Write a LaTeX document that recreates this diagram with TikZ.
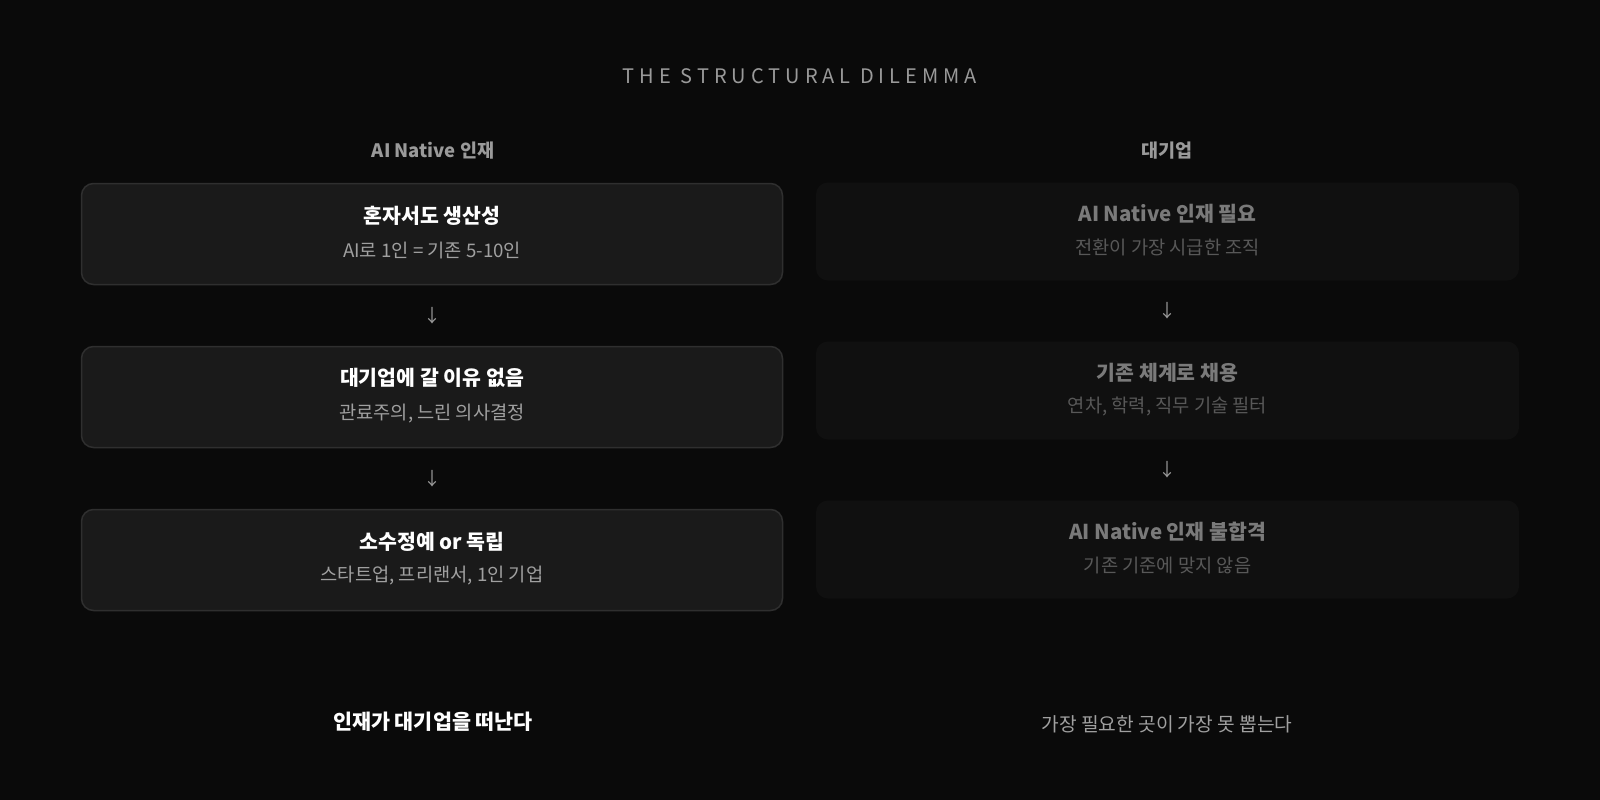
\documentclass[tikz,border=0pt]{standalone}
\usepackage{fontspec}
\setmainfont{Noto Sans CJK KR}
\newfontfamily\spacedfont[LetterSpace=25]{Noto Sans CJK KR}
\usetikzlibrary{positioning,calc}

\definecolor{bgc}{HTML}{0A0A0A}
\definecolor{cardfill}{HTML}{1A1A1A}
\definecolor{cardline}{HTML}{2F2F2F}
\definecolor{dimfill}{HTML}{101010}
\definecolor{headgrey}{HTML}{9A9A9A}
\definecolor{subgrey}{HTML}{A0A0A0}
\definecolor{dimtitle}{HTML}{7A7A7A}
\definecolor{dimsub}{HTML}{585858}

\tikzset{
  card/.style={draw=cardline, line width=1.5pt, fill=cardfill, rounded corners=12pt,
    minimum width=701pt, minimum height=101pt, inner sep=0pt},
  dimcard/.style={fill=dimfill, rounded corners=12pt,
    minimum width=703pt, minimum height=98pt, inner sep=0pt},
  cardtitle/.style={text=white, font=\fontsize{20.5}{24}\selectfont\bfseries, inner sep=0pt},
  cardsub/.style={text=subgrey, font=\fontsize{18.7}{22}\selectfont, inner sep=0pt},
  dimtitle/.style={text=dimtitle, font=\fontsize{20.5}{24}\selectfont\bfseries, inner sep=0pt},
  dimsub/.style={text=dimsub, font=\fontsize{18.7}{22}\selectfont, inner sep=0pt},
  colhead/.style={text=headgrey, font=\fontsize{18.5}{22}\selectfont\bfseries, inner sep=0pt},
  downarrow/.style={text=headgrey, font=\fontsize{18}{22}\selectfont, inner sep=0pt},
}

\begin{document}
\begin{tikzpicture}[x=1pt, y=-1pt]
  \fill[bgc] (0,0) rectangle (1600,800);
  \useasboundingbox (0,0) rectangle (1600,800);

  \node[text=headgrey, font=\fontsize{20}{24}\selectfont\spacedfont, inner sep=0pt] (title) at (800,76) {THE STRUCTURAL DILEMMA};

  % left column
  \node[colhead] (lhead) at (433,151) {AI Native 인재};
  \node[card] (l1) at (432,234) {};
  \node[card] (l2) at (432,397) {};
  \node[card] (l3) at (432,560) {};
  \node[cardtitle] (l1t) at ([yshift=18pt]l1.center) {혼자서도 생산성};
  \node[cardsub] (l1s) at ([yshift=-16pt]l1.center) {AI로 1인 = 기존 5-10인};
  \node[cardtitle] (l2t) at ([yshift=19pt]l2.center) {대기업에 갈 이유 없음};
  \node[cardsub] (l2s) at ([yshift=-17pt]l2.center) {관료주의, 느린 의사결정};
  \node[cardtitle] (l3t) at ([yshift=18pt]l3.center) {소수정예 or 독립};
  \node[cardsub] (l3s) at ([yshift=-16pt]l3.center) {스타트업, 프리랜서, 1인 기업};

  % right column
  \node[colhead] (rhead) at (1167,151) {대기업};
  \node[dimcard] (r1) at (1167.5,231.5) {};
  \node[dimcard] (r2) at (1167.5,390.5) {};
  \node[dimcard] (r3) at (1167.5,549.5) {};
  \node[dimtitle] (r1t) at ([yshift=18pt]r1.center) {AI Native 인재 필요};
  \node[dimsub] (r1s) at ([yshift=-16pt]r1.center) {전환이 가장 시급한 조직};
  \node[dimtitle] (r2t) at ([yshift=18pt]r2.center) {기존 체계로 채용};
  \node[dimsub] (r2s) at ([yshift=-16pt]r2.center) {연차, 학력, 직무 기술 필터};
  \node[dimtitle] (r3t) at ([yshift=18pt]r3.center) {AI Native 인재 불합격};
  \node[dimsub] (r3s) at ([yshift=-16pt]r3.center) {기존 기준에 맞지 않음};

  % arrows between cards
  \foreach \a/\b in {l1/l2, l2/l3, r1/r2, r2/r3} {
    \node[downarrow] at ($(\a.south)!0.5!(\b.north)$) {↓};
  }

  % conclusions
  \node[text=white, font=\fontsize{20.7}{24}\selectfont\bfseries, inner sep=0pt] (lend) at (433,722) {인재가 대기업을 떠난다};
  \node[text=subgrey, font=\fontsize{19.2}{23}\selectfont, inner sep=0pt] (rend) at (1167,724) {가장 필요한 곳이 가장 못 뽑는다};
\end{tikzpicture}
\end{document}
